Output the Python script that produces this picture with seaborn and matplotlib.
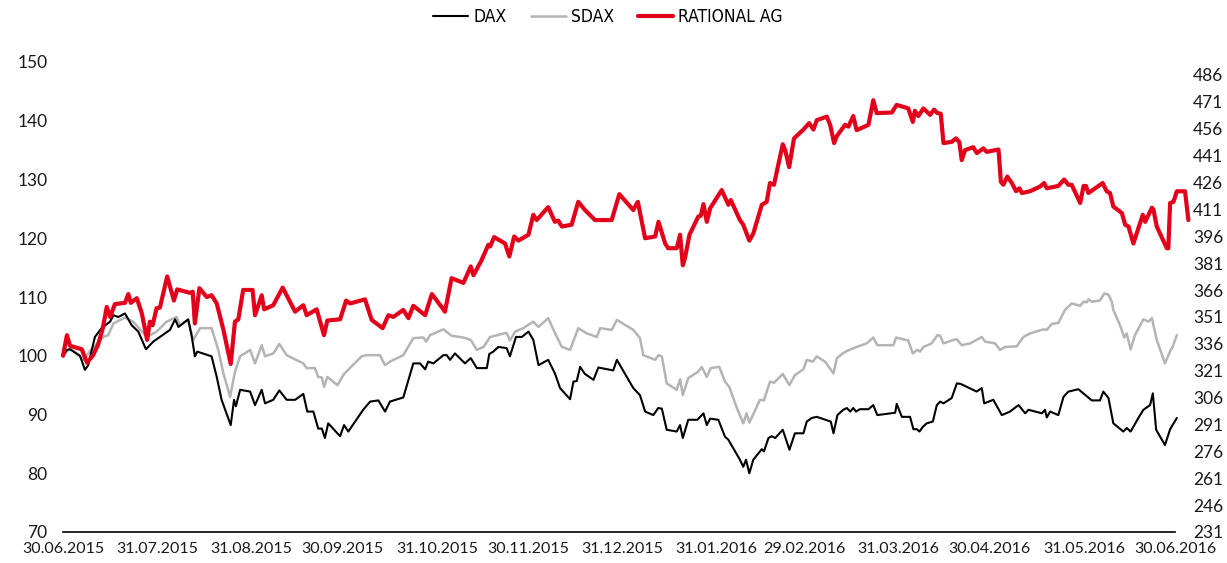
import pandas as pd
import matplotlib
matplotlib.use("Agg")
import matplotlib.pyplot as plt
import matplotlib.dates as mdates
import seaborn as sns

START = pd.Timestamp("2015-06-30")

# calendar days after 30.06.2015, index values (30.06.2015 = 100)
dax_days = [0, 1.3, 2.3, 5.6, 7.2, 8.3, 10.5, 12.7, 15.5, 16.6, 18.2, 20.4, 22.6, 24.8, 27.3, 29.7,
            35.2, 36.9, 38.0, 41.2, 42.4, 43.4, 44.2, 48.9, 50.6, 52.2, 55.2, 56.3, 56.9, 58.3,
            61.6, 63.2, 65.4, 66.5, 69.2, 71.2, 73.6, 76.4, 79.1, 80.4, 82.4, 84.0, 85.2, 86.2,
            87.3, 91.2, 92.5, 93.9, 98.8, 101.1, 103.8, 106.0, 107.6, 112.0, 115.3, 117.5, 119.2,
            120.2, 121.9, 125.2, 126.3, 127.4, 129.0, 132.3, 134.2, 136.2, 139.5, 140.3, 141.6,
            143.3, 146.0, 147.1, 149.1, 151.0, 153.2, 154.8, 156.5, 159.7, 161.9, 163.6, 166.9,
            168.0, 169.1, 170.2, 171.8, 174.6, 176.2, 181.1, 182.3, 187.7, 189.9, 191.6, 194.3,
            195.9, 197.1, 198.7, 202.0, 203.1, 204.0, 205.8, 208.8, 210.8, 211.9, 213.0, 215.7,
            217.9, 219.0, 222.8, 223.9, 224.8, 225.9, 227.2, 230.0, 230.7, 232.2, 233.3, 234.4,
            236.9, 239.1, 240.9, 243.7, 244.8, 246.4, 248.1, 252.7, 253.6, 254.9, 256.8, 258.0,
            259.1, 260.1, 261.0, 262.3, 265.1, 266.7, 268.0, 273.9, 274.4, 276.1, 278.8, 279.9,
            281.0, 281.9, 283.0, 284.3, 286.3, 287.6, 288.7, 289.8, 292.5, 294.2, 295.5, 300.7,
            302.4, 303.2, 306.2, 309.0, 311.7, 314.5, 316.7, 317.8, 322.2, 323.2, 323.8, 324.9,
            327.6, 329.3, 330.9, 334.2, 337.0, 338.6, 341.3, 342.4, 344.1, 345.7, 349.0, 350.1,
            351.4, 354.5, 355.6, 357.8, 358.7, 359.8, 362.7, 364.4, 366.6]
dax_vals = [100, 101.0, 101.1, 100.0, 97.6, 98.4, 103.2, 104.7, 105.8, 106.9, 106.6, 107.2, 105.2, 104.1, 101.1, 102.4,
            104.4, 106.2, 104.9, 106.2, 103.2, 99.9, 100.7, 99.9, 96.4, 92.5, 88.2, 92.5, 91.4, 94.2,
            93.9, 91.6, 94.2, 91.9, 92.5, 94.1, 92.5, 92.5, 93.5, 90.5, 90.5, 87.6, 87.6, 86.0,
            88.5, 86.3, 88.2, 87.1, 90.8, 92.2, 92.4, 90.5, 92.2, 92.9, 98.7, 98.7, 97.7,
            99.0, 98.7, 100.1, 100.1, 99.3, 100.4, 98.7, 99.6, 97.9, 97.9, 100.3, 100.7,
            101.5, 101.3, 99.9, 103.2, 103.2, 104.1, 102.7, 98.4, 99.3, 97.0, 94.5, 92.6,
            95.6, 95.7, 98.1, 96.9, 95.9, 98.0, 97.5, 99.3, 94.5, 93.3, 90.5, 89.9,
            91.1, 91.0, 87.4, 87.1, 88.2, 86.0, 89.1, 89.1, 90.2, 88.2, 89.3, 89.1,
            86.2, 85.7, 82.3, 81.1, 82.3, 80.0, 82.3, 84.1, 83.7, 86.0, 86.3, 86.0,
            87.4, 84.0, 86.8, 86.8, 88.8, 89.4, 89.6, 88.8, 86.8, 89.9, 90.8, 91.1,
            90.5, 91.1, 90.5, 90.9, 90.9, 91.6, 89.9, 90.3, 91.8, 89.6, 89.6, 87.5,
            87.5, 87.1, 87.9, 88.5, 88.8, 91.6, 92.2, 91.9, 92.8, 95.3, 95.2, 93.9,
            94.5, 91.9, 92.5, 89.9, 90.5, 91.6, 90.2, 90.8, 90.2, 90.8, 89.5, 90.5,
            89.9, 93.0, 93.9, 94.3, 93.1, 92.4, 92.4, 93.9, 92.8, 88.5, 87.1, 87.7,
            87.1, 89.9, 90.8, 91.6, 93.6, 87.4, 84.8, 87.5, 89.4]

sdax_days = [0, 2.3, 6.7, 9.4, 13.3, 14.9, 16.6, 20.4, 23.1, 27.6, 30.8, 34.1, 37.4, 38.5, 41.2, 42.9,
             45.1, 48.9, 51.1, 52.8, 55.0, 56.6, 58.3, 61.6, 63.2, 65.4, 66.5, 69.2, 71.2, 73.6,
             79.1, 80.2, 82.9, 84.0, 85.2, 85.9, 87.0, 90.3, 92.5, 98.3, 100.0, 104.3, 106.0,
             107.6, 112.0, 115.3, 118.6, 119.5, 120.8, 125.2, 127.9, 131.8, 134.2, 136.2, 138.4,
             140.6, 146.0, 147.1, 148.8, 151.5, 154.8, 156.5, 159.7, 161.9, 164.2, 166.9, 169.6,
             172.4, 175.7, 176.8, 180.6, 182.3, 187.7, 189.9, 191.0, 194.9, 196.0, 197.1, 198.7,
             202.0, 203.1, 204.0, 205.8, 209.1, 210.2, 211.9, 213.2, 216.0, 217.9, 219.3, 221.8,
             223.9, 225.0, 225.9, 229.4, 230.7, 232.7, 234.0, 236.9, 239.1, 240.9, 243.7, 244.8,
             246.8, 248.1, 250.8, 253.6, 254.7, 256.9, 258.8, 261.2, 264.5, 266.7, 268.0, 273.3,
             274.2, 278.2, 279.7, 281.2, 282.1, 283.2, 285.9, 287.8, 288.7, 289.8, 293.1, 294.2,
             295.8, 298.6, 302.4, 303.5, 306.8, 308.4, 310.1, 313.9, 316.1, 318.3, 322.7, 323.8,
             325.4, 327.6, 329.8, 332.0, 334.8, 335.9, 337.0, 337.5, 338.6, 341.3, 342.7, 344.1,
             345.2, 345.7, 347.9, 349.3, 350.1, 351.4, 352.8, 355.6, 357.3, 358.4, 360.0, 362.7,
             364.6, 365.2, 366.6]
sdax_vals = [100, 101.3, 99.3, 101.1, 103.2, 103.5, 105.5, 106.5, 105.8, 103.2, 104.1, 105.8, 106.6, 105.2, 106.1, 102.7,
             104.7, 104.7, 101.0, 97.0, 93.0, 97.3, 99.9, 101.0, 98.7, 101.8, 99.9, 100.4, 102.0, 100.1,
             98.7, 97.9, 97.9, 96.4, 96.3, 94.7, 96.4, 95.0, 96.9, 99.9, 100.1, 100.1, 98.4,
             99.0, 100.1, 103.0, 103.1, 102.4, 103.5, 104.5, 103.4, 103.1, 102.7, 101.0, 101.5,
             103.2, 103.9, 102.6, 104.1, 104.7, 105.8, 104.9, 106.4, 103.9, 101.5, 101.0, 104.7,
             103.8, 103.2, 104.7, 104.4, 106.1, 104.4, 103.0, 100.1, 99.3, 100.1, 99.9, 95.3,
             94.2, 96.0, 93.3, 96.2, 97.3, 98.1, 96.4, 97.9, 98.1, 95.6, 94.7, 91.1,
             88.5, 90.2, 88.6, 92.5, 92.4, 95.6, 95.4, 96.9, 95.0, 96.7, 97.7, 99.3,
             99.0, 99.9, 99.0, 97.0, 99.6, 100.5, 101.0, 101.5, 102.1, 103.1, 101.8, 101.8,
             103.1, 102.6, 100.4, 101.0, 100.7, 101.5, 102.1, 103.5, 103.4, 102.1, 102.7, 102.8,
             101.8, 102.1, 103.2, 102.4, 102.1, 101.0, 101.5, 101.6, 103.2, 103.8, 104.5, 104.4,
             105.4, 105.6, 107.8, 108.9, 108.5, 109.2, 109.1, 109.6, 109.2, 109.4, 110.6, 110.4,
             109.2, 107.8, 105.2, 103.1, 103.8, 101.1, 103.5, 106.2, 105.8, 106.4, 102.7, 98.7,
             101.0, 101.5, 103.5]

rational_days = [0, 1.3, 2.3, 6.2, 6.9, 7.9, 9.9, 11.5, 13.1, 14.4, 15.5, 17.1, 20.4, 21.5, 22.3, 24.3,
                 25.9, 27.7, 28.6, 29.5, 30.8, 31.9, 34.3, 36.5, 37.6, 41.8, 42.7, 43.4, 44.9, 47.3,
                 48.9, 50.6, 52.8, 55.2, 56.6, 57.7, 59.3, 62.4, 63.2, 65.4, 66.2, 69.2, 72.3, 76.4,
                 79.1, 80.2, 83.5, 85.9, 87.0, 91.2, 93.2, 94.5, 99.4, 101.6, 105.2, 107.1, 108.7,
                 112.0, 113.7, 115.3, 119.2, 121.4, 125.2, 125.7, 127.9, 131.8, 134.2, 135.1, 137.8,
                 140.0, 140.6, 141.9, 145.5, 146.9, 148.5, 149.9, 153.2, 154.8, 155.9, 159.7, 161.9,
                 163.0, 164.2, 167.4, 169.6, 171.8, 175.1, 180.6, 183.1, 187.7, 189.2, 191.6, 194.9,
                 196.0, 198.2, 199.2, 202.0, 203.1, 204.0, 204.7, 206.2, 209.1, 209.9, 210.8, 211.9,
                 213.0, 216.8, 219.0, 219.8, 222.8, 223.9, 225.9, 227.2, 230.0, 231.6, 232.7, 234.0,
                 236.9, 237.7, 239.0, 240.6, 243.7, 245.6, 247.0, 248.1, 251.4, 252.5, 253.8, 254.7,
                 257.4, 258.5, 260.1, 261.2, 265.1, 266.7, 267.8, 272.8, 274.4, 278.2, 279.7, 280.4,
                 281.5, 283.2, 285.4, 286.7, 287.8, 288.9, 289.8, 292.5, 293.9, 295.0, 295.8, 296.9,
                 299.6, 300.8, 302.9, 304.0, 307.9, 308.7, 309.5, 310.8, 312.3, 313.7, 314.8, 315.6,
                 318.3, 321.6, 322.9, 323.8, 327.6, 329.5, 330.9, 332.0, 334.8, 335.9, 336.7, 337.5,
                 342.2, 343.5, 344.6, 345.7, 348.5, 349.6, 350.7, 352.3, 355.4, 356.2, 358.4, 358.9,
                 360.0, 363.3, 363.8, 364.4, 365.5, 366.6, 369.3, 370.4]
rational_vals = [100, 103.5, 101.7, 101.1, 100.1, 98.8, 100.1, 101.8, 104.7, 108.3, 106.6, 108.8, 109.0, 110.5, 109.0, 109.8,
                 107.3, 102.7, 105.8, 105.2, 108.1, 108.2, 113.5, 109.4, 111.3, 110.7, 110.9, 105.5, 111.5, 110.0,
                 110.3, 108.9, 104.4, 98.6, 105.8, 106.2, 111.2, 111.2, 106.9, 110.3, 107.9, 108.6, 111.6, 107.5,
                 108.6, 106.9, 107.9, 103.5, 106.0, 106.2, 109.4, 108.9, 109.6, 106.1, 104.7, 106.9, 106.6,
                 107.8, 106.4, 108.5, 106.9, 110.5, 107.9, 107.5, 113.2, 112.4, 115.2, 113.7, 116.3,
                 118.9, 118.6, 120.2, 119.1, 116.9, 120.3, 119.6, 120.6, 124.0, 123.1, 125.3, 122.8,
                 123.0, 122.0, 122.3, 126.2, 124.8, 123.1, 123.1, 127.5, 124.8, 126.2, 120.0, 120.3,
                 122.8, 119.1, 118.3, 118.3, 120.6, 115.4, 116.6, 120.6, 123.7, 123.8, 125.8, 122.8,
                 125.1, 128.2, 125.7, 126.5, 123.1, 122.3, 119.6, 120.8, 125.7, 126.2, 129.4, 129.1,
                 136.0, 135.0, 132.1, 137.0, 138.5, 139.6, 138.5, 140.1, 140.7, 139.3, 136.2, 137.4,
                 139.3, 139.0, 140.8, 138.4, 139.3, 143.5, 141.3, 141.4, 142.7, 142.1, 139.8, 141.7,
                 140.8, 142.1, 141.0, 141.9, 141.3, 141.2, 136.2, 136.4, 137.0, 136.4, 133.3, 135.0,
                 135.5, 134.5, 135.3, 134.7, 135.1, 129.6, 129.1, 130.5, 129.4, 128.0, 128.5, 127.7,
                 128.0, 128.8, 129.4, 128.5, 128.9, 130.0, 129.1, 129.1, 126.0, 128.9, 128.9, 127.7,
                 129.4, 128.0, 127.7, 125.4, 124.3, 122.3, 122.0, 119.1, 124.0, 122.8, 125.2, 124.9,
                 122.0, 118.3, 118.3, 126.0, 126.2, 128.0, 128.0, 123.1]

tick_dates = ["2015-06-30", "2015-07-31", "2015-08-31", "2015-09-30", "2015-10-31", "2015-11-30",
              "2015-12-31", "2016-01-31", "2016-02-29", "2016-03-31", "2016-04-30", "2016-05-31",
              "2016-06-30"]
left_ticks = [70, 80, 90, 100, 110, 120, 130, 140, 150]
right_ticks = list(range(231, 487, 15))   # RATIONAL share price (EUR)

series_names = ["DAX", "SDAX", "RATIONAL AG"]
colors = {"DAX": "#000000", "SDAX": "#b4b4b4", "RATIONAL AG": "#e2001a"}
widths = {"DAX": 1.5, "SDAX": 1.8, "RATIONAL AG": 3.0}


def make_frame(days, vals, name):
    return pd.DataFrame({
        "date": START + pd.to_timedelta(days, unit="D"),
        "value": vals,
        "series": name,
    })


frames = {
    "DAX": make_frame(dax_days, dax_vals, "DAX"),
    "SDAX": make_frame(sdax_days, sdax_vals, "SDAX"),
    "RATIONAL AG": make_frame(rational_days, rational_vals, "RATIONAL AG"),
}

sns.set_theme(style="white")
plt.rcParams["font.family"] = ["Lato", "DejaVu Sans"]
TEXT = "#1a1a1a"

fig = plt.figure(figsize=(12.27, 5.63), dpi=100)
ax = fig.add_axes([63 / 1227, 1 - 532 / 563, (1175 - 63) / 1227, (532 - 62) / 563])

for name in ["SDAX", "DAX", "RATIONAL AG"]:
    sns.lineplot(data=frames[name], x="date", y="value", ax=ax, color=colors[name],
                 linewidth=widths[name], estimator=None, sort=False, label=name, legend=False)
for line in ax.lines:
    line.set_clip_on(False)

ax.set_xlim(START, START + pd.Timedelta(days=366))
ax.set_ylim(70, 150)
ax.set_yticks(left_ticks)
ax.set_xticks(pd.to_datetime(tick_dates))
ax.xaxis.set_major_formatter(mdates.DateFormatter("%d.%m.%Y"))
ax.set_xlabel("")
ax.set_ylabel("")
ax.tick_params(axis="y", length=0, pad=11, labelsize=12.5, labelcolor=TEXT)
ax.tick_params(axis="x", length=0, pad=7, labelsize=11.5, labelcolor=TEXT)
for side in ["left", "right", "top"]:
    ax.spines[side].set_visible(False)
ax.spines["bottom"].set_color("#000000")
ax.spines["bottom"].set_linewidth(1.2)

# secondary axis: share price, aligned so that index 100 equals the start price
k = 3.278
ax2 = ax.twinx()
ax2.set_ylim(231, 231 + 80 * k)
ax2.set_yticks(right_ticks)
ax2.tick_params(axis="y", length=0, pad=13, labelsize=12.5, labelcolor=TEXT)
ax2.grid(False)
for side in ["left", "right", "top", "bottom"]:
    ax2.spines[side].set_visible(False)

handles = {l.get_label(): l for l in ax.lines}
leg = fig.legend([handles[n] for n in series_names], series_names, loc="center",
                 bbox_to_anchor=(608 / 1227, 1 - 17 / 563), ncol=3, frameon=False,
                 handlelength=2.0, handletextpad=0.3, columnspacing=1.4,
                 prop={"family": "DejaVu Sans", "stretch": "condensed", "size": 12.5})
for t in leg.get_texts():
    t.set_color("#000000")

fig.savefig("out.png", dpi=100)
